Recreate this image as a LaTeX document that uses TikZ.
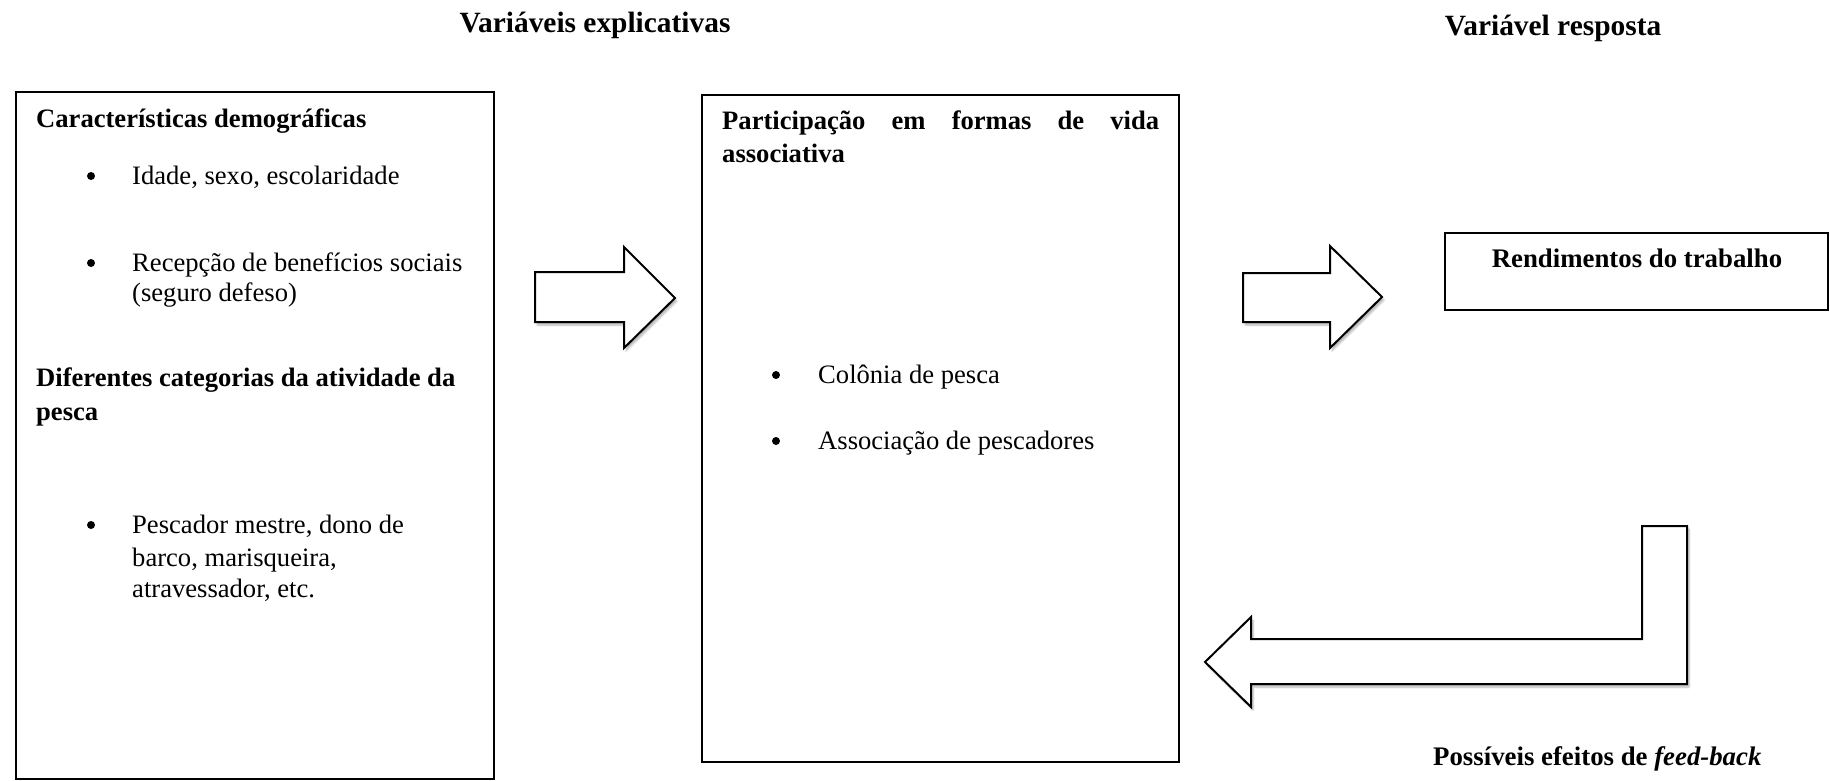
\documentclass[tikz,border=0pt]{standalone}
\usepackage{fontspec}
\setmainfont{Liberation Serif}
\usetikzlibrary{shadows.blur}
\begin{document}
\begin{tikzpicture}[x=1pt,y=-1pt,
  every node/.style={inner sep=0pt, font=\fontsize{26.6}{32}\selectfont},
  box/.style={draw, line width=2pt, rectangle},
  txt/.style={anchor=base west},
  hd/.style={anchor=base west, font=\fontsize{26.6}{32}\selectfont\bfseries},
  ttl/.style={anchor=base, font=\fontsize{29.4}{34}\selectfont\bfseries},
  bul/.style={circle, fill=black, minimum size=8pt},
  blockarrow/.style={draw, line width=2pt, fill=white, line join=miter,
    blur shadow={shadow xshift=2pt, shadow yshift=-3pt, shadow blur steps=6, shadow opacity=30}}
]
\useasboundingbox (0,0) rectangle (1830,780);

% titles
\node[ttl] (t1) at (595,32) {Variáveis explicativas};
\node[ttl] (t2) at (1553,35) {Variável resposta};
\node[anchor=base west, font=\fontsize{26.8}{32}\selectfont\bfseries] (t3) at (1433,765) {Possíveis efeitos de \textit{feed-back}};

% boxes
\node[box, minimum width=478pt, minimum height=687pt] (left) at (255,435.5) {};
\node[box, minimum width=477pt, minimum height=667pt] (mid) at (940.5,428.5) {};
\node[box, minimum width=383pt, minimum height=77pt] (right) at (1636.5,271.5) {};

% left box content
\node[hd] (l1) at (36,127) {Características demográficas};
\node[bul] (b1) at (91,176) {};
\node[txt] (l2) at (132,184) {Idade, sexo, escolaridade};
\node[bul] (b2) at (91,263) {};
\node[txt] (l3) at (132,271) {Recepção de benefícios sociais};
\node[txt] (l4) at (132,301) {(seguro defeso)};
\node[hd] (l5) at (36,386) {Diferentes categorias da atividade da};
\node[hd] (l6) at (36,420) {pesca};
\node[bul] (b3) at (91,525) {};
\node[txt] (l7) at (132,533) {Pescador mestre, dono de};
\node[txt] (l8) at (132,566) {barco, marisqueira,};
\node[txt] (l9) at (132,597) {atravessador, etc.};

% middle box content
\node[anchor=base west, text width=437pt, align=left,
      font=\fontsize{26.6}{33}\selectfont\bfseries] (m1) at (722,129)
  {Participação\hfill em\hfill formas\hfill de\hfill vida\\associativa};
\node[bul] (b4) at (776,375) {};
\node[txt] (m2) at (818,383) {Colônia de pesca};
\node[bul] (b5) at (776,441) {};
\node[txt] (m3) at (818,449) {Associação de pescadores};

% right box content
\node[anchor=base, font=\fontsize{26.8}{32}\selectfont\bfseries] (r1) at (1637,267) {Rendimentos do trabalho};

% block arrows
\draw[blockarrow] (535,272) -- (624,272) -- (624,247) -- (675,298) -- (624,348) -- (624,322) -- (535,322) -- cycle;
\draw[blockarrow] (1243,273) -- (1330,273) -- (1330,246) -- (1382,297) -- (1330,348) -- (1330,322) -- (1243,322) -- cycle;
\draw[blockarrow] (1642,526) -- (1687,526) -- (1687,684) -- (1251,684) -- (1251,707) -- (1205,662) -- (1251,617) -- (1251,639) -- (1642,639) -- cycle;
\end{tikzpicture}
\end{document}
